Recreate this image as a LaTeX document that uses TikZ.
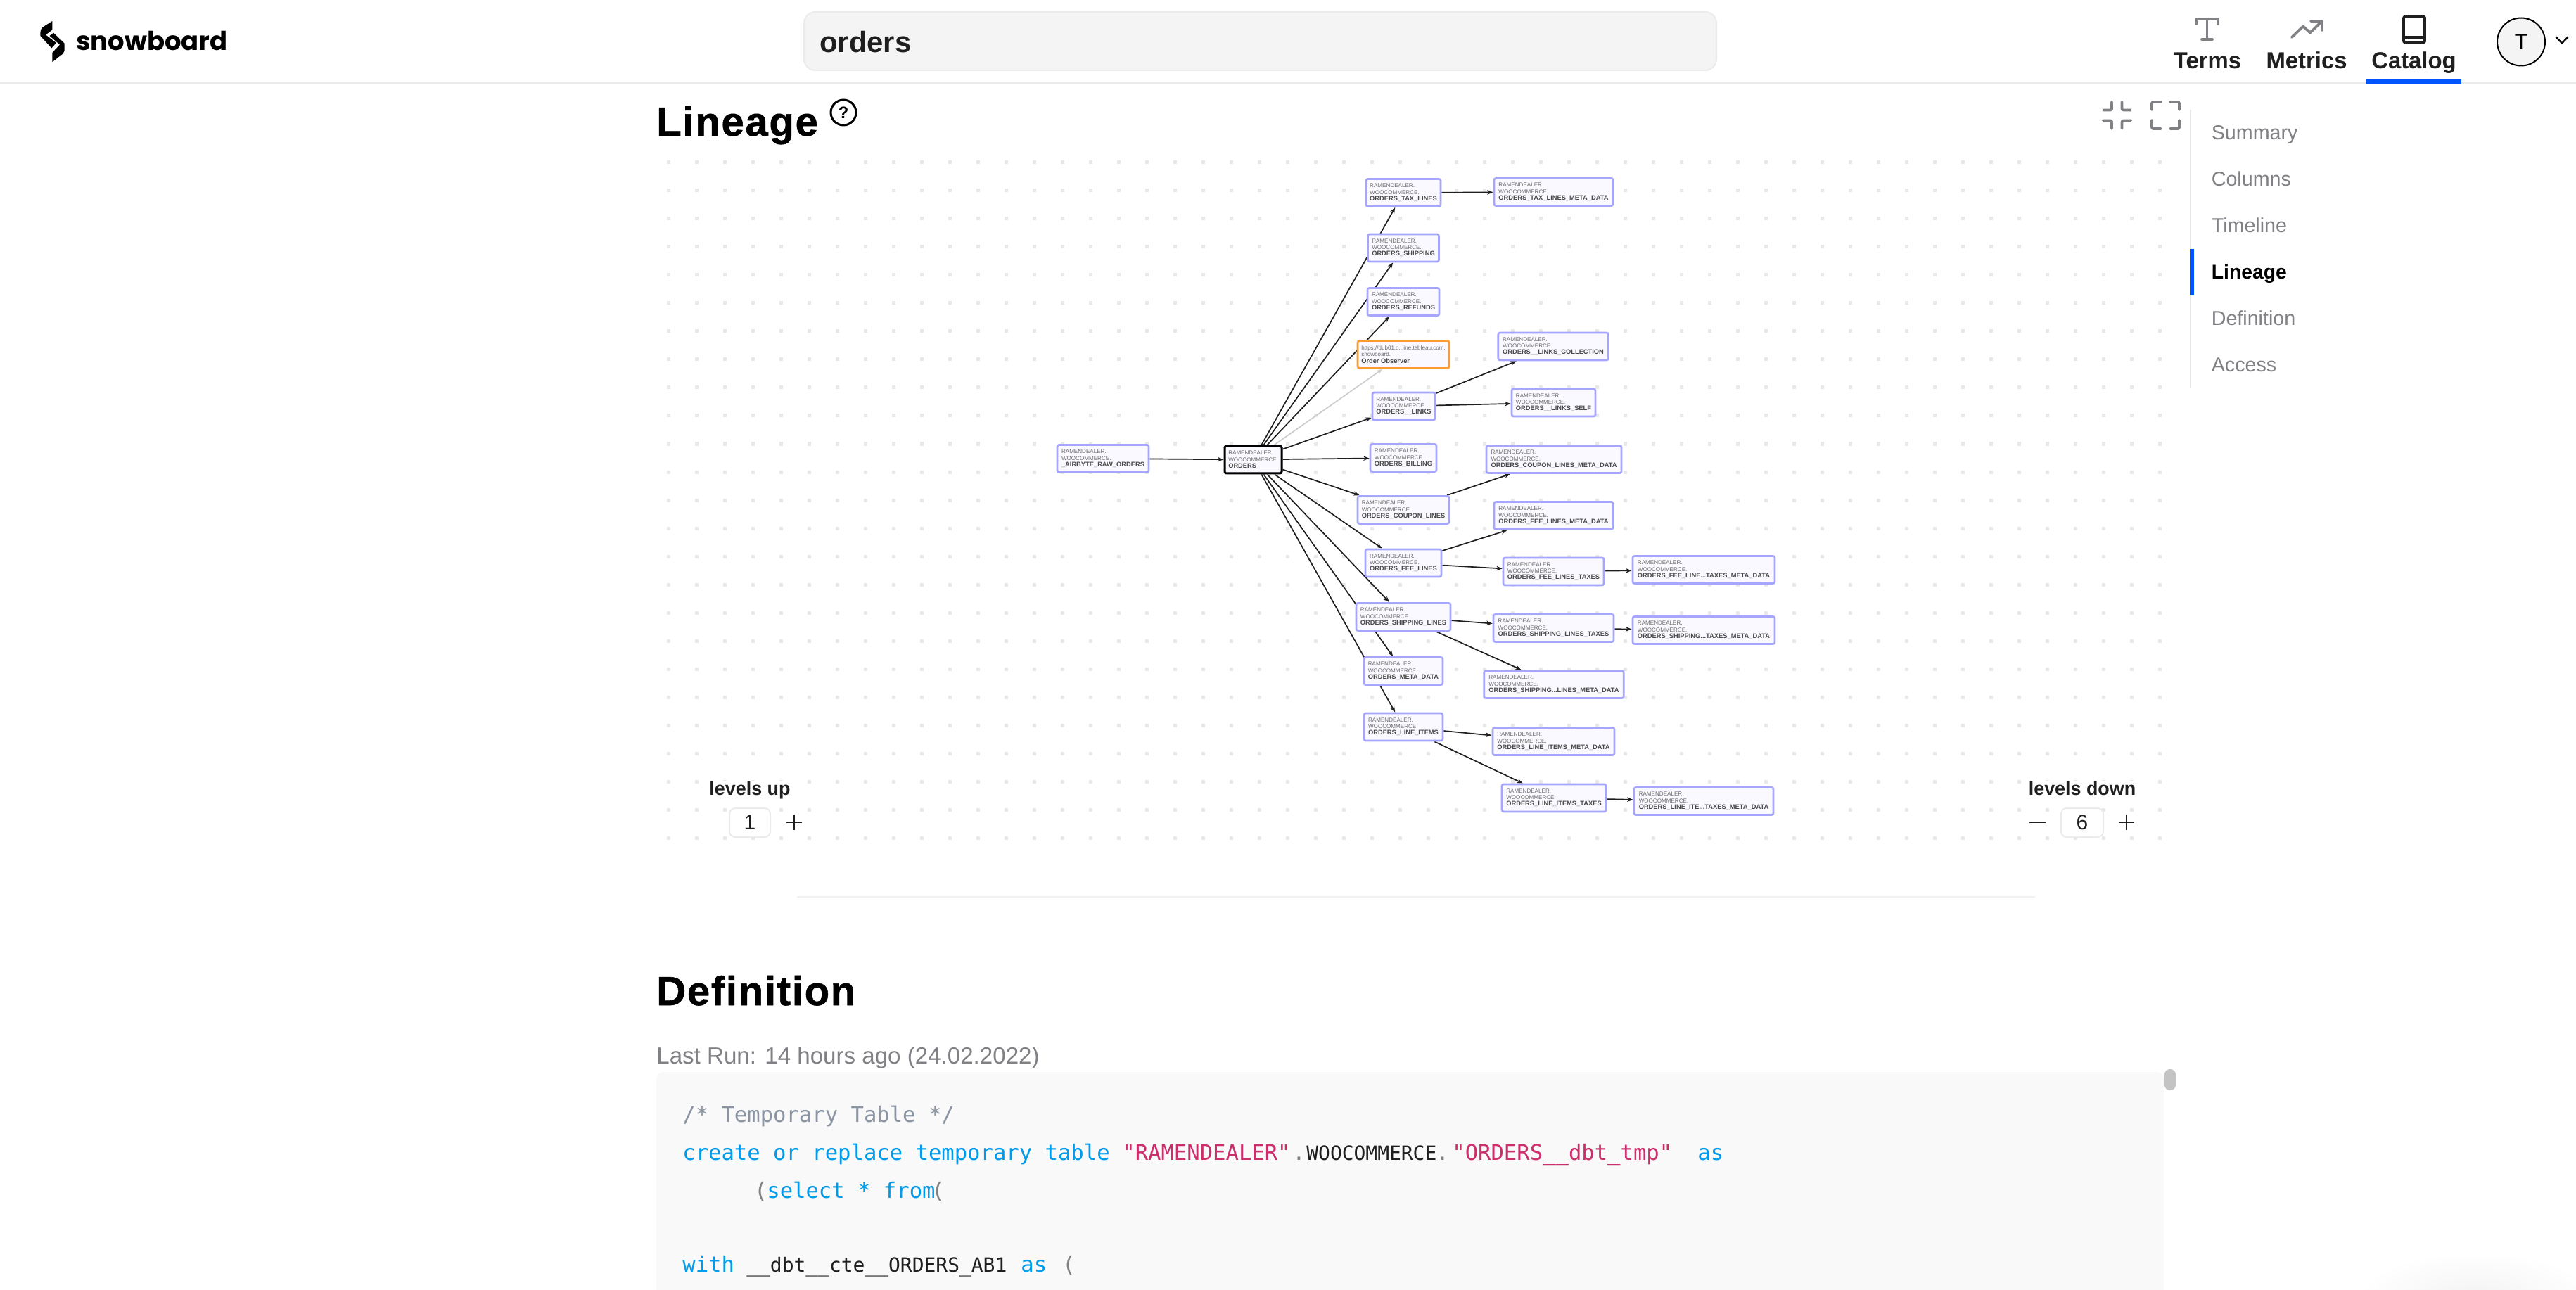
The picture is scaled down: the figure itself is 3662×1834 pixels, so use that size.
\documentclass[tikz,border=0pt]{standalone}
\usepackage{fontspec}
\setmainfont{Liberation Sans}
\setmonofont{DejaVu Sans Mono}
\newfontfamily\logofont{Poppins}
\newfontfamily\headfont{Liberation Sans Bold}[LetterSpace=3,FakeBold=1]
\usetikzlibrary{arrows.meta, positioning}
\definecolor{tableborder}{HTML}{A6A6FF}
\definecolor{tablefill}{HTML}{F9F9FF}
\definecolor{tablemeta}{HTML}{6E6E6E}
\definecolor{tablename}{HTML}{4A4A4A}
\definecolor{observer}{HTML}{FF9A2E}
\definecolor{ink}{HTML}{1F1F1F}
\definecolor{muted}{HTML}{808085}
\definecolor{hairline}{HTML}{EBEBEB}
\definecolor{griddot}{HTML}{E8E8E8}
\definecolor{active}{HTML}{0055FF}
\definecolor{keyword}{HTML}{009CEB}
\definecolor{quoted}{HTML}{CC2E6C}
\definecolor{comment}{HTML}{8A94A3}
\definecolor{codebg}{HTML}{F9F9F9}
\pgfdeclarelayer{dots}
\pgfdeclarelayer{edges}
\pgfsetlayers{dots,edges,main}
\newcommand{\metaline}[1]{\textcolor{tablemeta}{\fontsize{4.6}{5.27}\selectfont #1}}
\newcommand{\nameline}[1]{\textcolor{tablename}{\fontsize{5.3}{5.27}\selectfont\bfseries #1}}
\newcommand{\tbl}[1]{\metaline{RAMENDEALER.}\\\metaline{WOOCOMMERCE.}\\\nameline{#1}}
\tikzset{
  tablenode/.style={draw=tableborder, fill=tablefill, line width=0.055cm, rounded corners=0.05cm, minimum height=0.78cm, inner xsep=0.1cm, inner ysep=0, align=left, font=\fontsize{4.6}{5.27}\selectfont},
  flow/.style={-{Stealth[length=0.17cm, width=0.13cm]}, line width=0.034cm, ink},
  txt/.style={inner sep=0, anchor=base west, text=ink},
  heading/.style={txt, font=\headfont\fontsize{33}{36}\selectfont, text=black},
  topnav/.style={inner sep=0, anchor=base, text=ink, font=\fontsize{18.7}{20}\selectfont\bfseries},
  sidenav/.style={txt, text=muted, font=\fontsize{16.3}{18}\selectfont},
  levels/.style={inner sep=0.02cm, fill=white, anchor=base, text=ink, font=\fontsize{15.3}{17}\selectfont\bfseries},
  stepper/.style={draw=hairline, fill=white, line width=0.04cm, rounded corners=0.16cm, minimum height=0.82cm, inner sep=0, text=ink, font=\fontsize{17}{19}\selectfont},
  code/.style={txt, font=\fontsize{17.4}{19}\selectfont\ttfamily},
  ident/.style={txt, font=\fontsize{15.9}{19}\selectfont\ttfamily},
  iconline/.style={line width=0.075cm, line cap=round, line join=round, rounded corners=0.04cm},
}
\begin{document}
\begin{tikzpicture}[x=0.02cm, y=-0.02cm]
  \useasboundingbox (0,0) rectangle (3662,1834);
  % page chrome
  \draw[hairline, line width=0.04cm] (0,118) -- (3662,118);
  \fill[active] (3364,113) rectangle (3499,119);
  \fill[black] (74.3,30) -- (61,38.5) .. controls (58,41) and (57.3,44) .. (57.3,47) -- (57.3,51) -- (73.3,68.3) -- (80,61) -- (65,49.5) -- (74.3,42.5) -- cycle;
  \fill[black] (76,46.7) -- (91.7,61.7) -- (91.7,71.5) .. controls (91.7,75) and (89,77) .. (86,79) -- (74.3,88.3) -- (74.3,75) -- (85,63.5) -- (70.5,51) -- cycle;
  \node[txt, text=black, font=\logofont\fontsize{21}{23}\selectfont\bfseries] (brand) at (108,72) {snowboard};
  \draw[hairline, fill=black!4.5, line width=0.04cm, rounded corners=0.32cm] (1143,17) rectangle (2440,100);
  \node[txt, font=\fontsize{23.8}{26}\selectfont\bfseries] (search) at (1165,75) {orders};
  % top icons
  \draw[muted, iconline, rounded corners=0] (3122,34) -- (3122,27) -- (3153,27) -- (3153,34) (3137.5,27) -- (3137.5,56) (3130,56) -- (3145,56);
  \draw[muted, iconline, rounded corners=0] (3258,53) -- (3274,37.5) -- (3284,46.5) -- (3301,30) (3285,30) -- (3301,30) -- (3301,43);
  \draw[ink, iconline] (3417,23.5) rectangle (3447,60.5);
  \draw[ink, iconline] (3417,53) -- (3447,53);
  \node[topnav] (terms) at (3138,98) {Terms};
  \node[topnav] (metrics) at (3279,98) {Metrics};
  \node[topnav] (catalog) at (3431.5,98) {Catalog};
  \node[draw=black, fill=black!4.5, circle, line width=0.04cm, minimum size=1.36cm, inner sep=0, font=\fontsize{17}{19}\selectfont] (avatar) at (3584,59.5) {T};
  \draw[black, line width=0.045cm] (3633,52) -- (3642,61.5) -- (3651,52);
  % lineage header
  \node[heading] (lineagetitle) at (933,193) {Lineage};
  \node[draw=black, circle, line width=0.06cm, minimum size=0.72cm, inner sep=0, font=\fontsize{13.5}{14}\selectfont\bfseries] (help) at (1199,160) {?};
  \draw[muted, iconline] (2990,156.5) -- (3002,156.5) -- (3002,145) (3029,156.5) -- (3016.5,156.5) -- (3016.5,145) (2990,171.5) -- (3002,171.5) -- (3002,183) (3029,171.5) -- (3016.5,171.5) -- (3016.5,183);
  \draw[muted, iconline] (3059,156) -- (3059,145) -- (3072,145) (3085,145) -- (3098,145) -- (3098,156) (3059,171) -- (3059,183) -- (3072,183) (3085,183) -- (3098,183) -- (3098,171);
  % side menu
  \draw[griddot, line width=0.03cm] (3114,156) -- (3114,552);
  \fill[active] (3113,354) rectangle (3119,420);
  \node[sidenav] (summary) at (3143.5,199) {Summary};
  \node[sidenav] (columns) at (3143.5,265) {Columns};
  \node[sidenav] (timeline) at (3143.5,331) {Timeline};
  \node[sidenav, text=black, font=\fontsize{16.1}{18}\selectfont\bfseries] (current) at (3143.5,396.5) {Lineage};
  \node[sidenav] (definition) at (3143.5,462.5) {Definition};
  \node[sidenav] (access) at (3143.5,529) {Access};
  % dotted canvas
  \begin{pgfonlayer}{dots}
    \foreach \x in {950,990,...,3070}
      \foreach \y in {231,271,...,1191}
        \fill[griddot] (\x-2.5,\y-2.5) rectangle +(5,5);
  \end{pgfonlayer}
  % tables
  \node[tablenode, minimum width=2.6cm] (airbyte) at (1568,652) {\tbl{\_AIRBYTE\_RAW\_ORDERS}};
  \node[tablenode, minimum width=1.62cm, draw=black, line width=0.06cm] (orders) at (1781.5,653.5) {\tbl{ORDERS}};
  \node[tablenode, minimum width=2.12cm] (taxlines) at (1995,274) {\tbl{ORDERS\_TAX\_LINES}};
  \node[tablenode, minimum width=3.38cm] (taxmeta) at (2208.5,273) {\tbl{ORDERS\_TAX\_LINES\_META\_DATA}};
  \node[tablenode, minimum width=2.02cm] (shipping) at (1995,352.5) {\tbl{ORDERS\_SHIPPING}};
  \node[tablenode, minimum width=2.04cm] (refunds) at (1995,429) {\tbl{ORDERS\_REFUNDS}};
  \node[tablenode, minimum width=2.6cm, draw=observer] (watcher) at (1995,504) {\metaline{https://dub01.o...ine.tableau.com.}\\\metaline{snowboard.}\\\nameline{Order Observer}};
  \node[tablenode, minimum width=3.13cm] (linkscoll) at (2208,492.5) {\tbl{ORDERS\_\_LINKS\_COLLECTION}};
  \node[tablenode, minimum width=1.78cm] (links) at (1995.5,577.5) {\tbl{ORDERS\_\_LINKS}};
  \node[tablenode, minimum width=2.38cm] (linksself) at (2208.5,572.5) {\tbl{ORDERS\_\_LINKS\_SELF}};
  \node[tablenode, minimum width=1.88cm] (billing) at (1995,651) {\tbl{ORDERS\_BILLING}};
  \node[tablenode, minimum width=3.84cm] (couponmeta) at (2209,653) {\tbl{ORDERS\_COUPON\_LINES\_META\_DATA}};
  \node[tablenode, minimum width=2.6cm] (coupon) at (1995,725) {\tbl{ORDERS\_COUPON\_LINES}};
  \node[tablenode, minimum width=3.38cm] (feemeta) at (2208.5,733) {\tbl{ORDERS\_FEE\_LINES\_META\_DATA}};
  \node[tablenode, minimum width=2.16cm] (fee) at (1995,800.5) {\tbl{ORDERS\_FEE\_LINES}};
  \node[tablenode, minimum width=2.86cm] (feetax) at (2208.5,812.5) {\tbl{ORDERS\_FEE\_LINES\_TAXES}};
  \node[tablenode, minimum width=4.04cm] (feetaxmeta) at (2422,810) {\tbl{ORDERS\_FEE\_LINE...TAXES\_META\_DATA}};
  \node[tablenode, minimum width=2.68cm] (shiplines) at (1995,877) {\tbl{ORDERS\_SHIPPING\_LINES}};
  \node[tablenode, minimum width=3.42cm] (shiptax) at (2208.5,893) {\tbl{ORDERS\_SHIPPING\_LINES\_TAXES}};
  \node[tablenode, minimum width=4.04cm] (shiptaxmeta) at (2422,896) {\tbl{ORDERS\_SHIPPING...TAXES\_META\_DATA}};
  \node[tablenode, minimum width=2.24cm] (metadata) at (1995,954) {\tbl{ORDERS\_META\_DATA}};
  \node[tablenode, minimum width=3.97cm] (shipmeta) at (2209,973) {\tbl{ORDERS\_SHIPPING...LINES\_META\_DATA}};
  \node[tablenode, minimum width=2.24cm] (items) at (1995,1033.5) {\tbl{ORDERS\_LINE\_ITEMS}};
  \node[tablenode, minimum width=3.46cm] (itemsmeta) at (2208.5,1054) {\tbl{ORDERS\_LINE\_ITEMS\_META\_DATA}};
  \node[tablenode, minimum width=2.96cm] (itemstax) at (2209,1134.5) {\tbl{ORDERS\_LINE\_ITEMS\_TAXES}};
  \node[tablenode, minimum width=3.96cm] (itemstaxmeta) at (2422,1139) {\tbl{ORDERS\_LINE\_ITE...TAXES\_META\_DATA}};
  \begin{pgfonlayer}{edges}
    \foreach \from/\to in {airbyte/orders, orders/taxlines, orders/shipping, orders/refunds, orders/links, orders/billing, orders/coupon, orders/fee, orders/shiplines, orders/metadata, orders/items, taxlines/taxmeta, links/linkscoll, links/linksself, coupon/couponmeta, fee/feemeta, fee/feetax, feetax/feetaxmeta, shiplines/shiptax, shiptax/shiptaxmeta, shiplines/shipmeta, items/itemsmeta, items/itemstax, itemstax/itemstaxmeta}
      \draw[flow] (\from) -- (\to);
    \draw[flow, black!20] (orders) -- (watcher);
  \end{pgfonlayer}
  % level controls
  \node[levels] (levelsup) at (1066,1130) {levels up};
  \node[stepper, minimum width=1.16cm] (upcount) at (1066,1169.5) {1};
  \draw[ink, line width=0.05cm] (1118,1169) -- (1140,1169) (1129,1158) -- (1129,1180);
  \node[levels] (levelsdown) at (2960,1130) {levels down};
  \node[stepper, minimum width=1.2cm] (downcount) at (2960,1169.5) {6};
  \draw[ink, line width=0.05cm] (2885,1169) -- (2908,1169);
  \draw[ink, line width=0.05cm] (3012,1169) -- (3034,1169) (3023,1158) -- (3023,1180);
  \draw[black!5, line width=0.04cm] (1133,1275) -- (2893,1275);
  % definition
  \node[heading] (definitiontitle) at (933,1429) {Definition};
  \node[txt, text=muted, font=\fontsize{18.85}{20}\selectfont] (lastrun) at (933,1512) {Last Run: 14 hours ago (24.02.2022)};
  \fill[codebg, rounded corners=0.2cm] (933,1900) -- (933,1524) -- (3076,1524) [sharp corners] -- (3076,1900) -- cycle;
  \fill[black!23, rounded corners=0.15cm] (3077,1520) rectangle (3093,1550);
  \node[code, text=comment] (comment) at (970,1595) {/* Temporary Table */};
  \node[code, text=keyword] (create) at (970,1649) {create or replace temporary table};
  \node[code, text=quoted] (schema) at (1595,1649) {"RAMENDEALER"};
  \node[code, text=muted] (dota) at (1837,1649) {.};
  \node[ident] (woo) at (1857,1649) {WOOCOMMERCE};
  \node[code, text=muted] (dotb) at (2041,1649) {.};
  \node[code, text=quoted] (tmptable) at (2064,1649) {"ORDERS\_\_dbt\_tmp"};
  \node[code, text=keyword] (asa) at (2413,1649) {as};
  \node[code, text=muted] (opena) at (1072,1703) {(};
  \node[code, text=keyword] (select) at (1090,1703) {select * from};
  \node[code, text=muted] (openb) at (1324,1703) {(};
  \node[code, text=keyword] (with) at (970,1808) {with};
  \node[ident] (cte) at (1061,1808) {\_\_dbt\_\_cte\_\_ORDERS\_AB1};
  \node[code, text=keyword] (asb) at (1451,1808) {as};
  \node[code, text=muted] (openc) at (1510,1808) {(};
  \begin{scope}
    \clip (3360,1760) rectangle (3662,1834);
    \shade[inner color=black!5, outer color=white] (3520,1850) ellipse [x radius=170, y radius=70];
  \end{scope}
\end{tikzpicture}
\end{document}
